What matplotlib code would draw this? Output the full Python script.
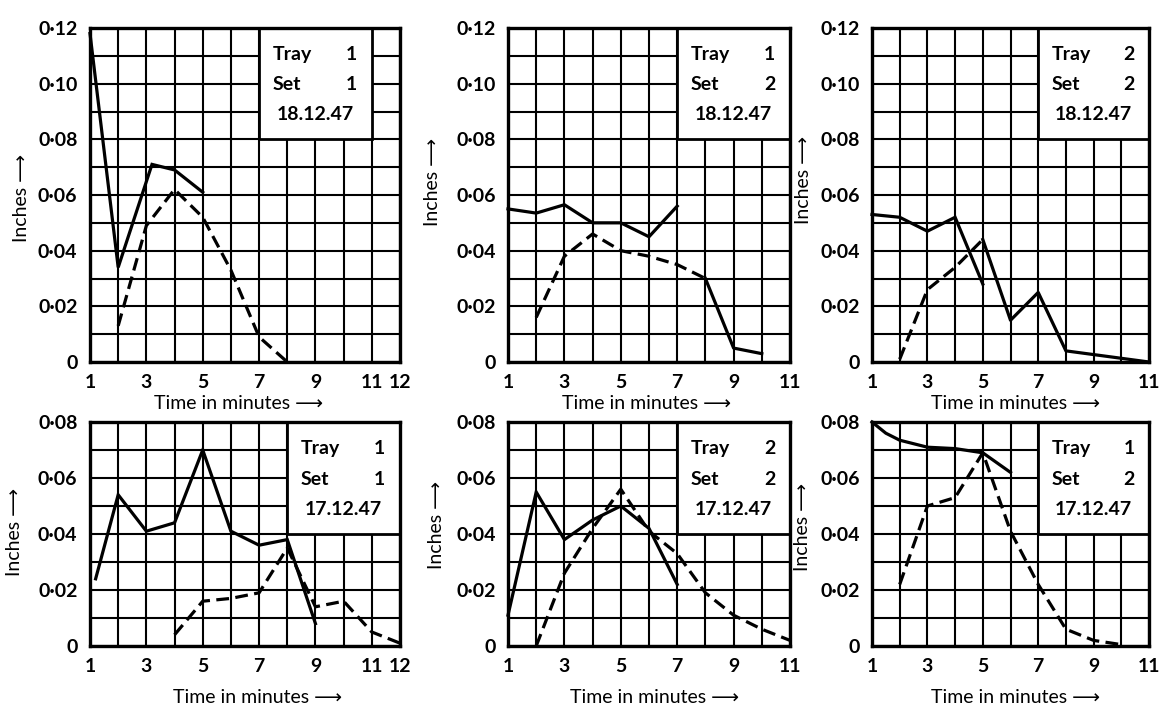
import matplotlib
matplotlib.use('Agg')
import matplotlib.pyplot as plt
from matplotlib.patches import Rectangle

plt.rcParams['font.family'] = ['Lato', 'DejaVu Sans']
plt.rcParams['font.weight'] = 'bold'

# ---- data (x = minutes, y = inches) ----
# Tray 1, Set 1, 18.12.47
a_solid_x = [1, 2, 3.2, 4, 5]
a_solid_y = [0.118, 0.034, 0.071, 0.069, 0.061]
a_dash_x = [2, 3, 4, 5, 6, 7, 8]
a_dash_y = [0.013, 0.049, 0.062, 0.052, 0.033, 0.009, 0.0]

# Tray 1, Set 2, 18.12.47
b_solid_x = [1, 2, 3, 4, 5, 6, 7]
b_solid_y = [0.055, 0.0535, 0.0565, 0.050, 0.050, 0.045, 0.056]
b_dash_x = [2, 3, 4, 5, 6, 7, 8, 9, 10]
b_dash_y = [0.016, 0.038, 0.046, 0.040, 0.038, 0.035, 0.030, 0.005, 0.003]

# Tray 2, Set 2, 18.12.47
c_solid_x = [1, 2, 3, 4, 5]
c_solid_y = [0.053, 0.052, 0.047, 0.052, 0.028]
c_dash_x = [2, 3, 4, 5, 6, 7, 8, 11]
c_dash_y = [0.001, 0.026, 0.034, 0.044, 0.015, 0.025, 0.004, 0.0]

# Tray 1, Set 1, 17.12.47
d_solid_x = [1.2, 2, 3, 4, 5, 6, 7, 8, 9]
d_solid_y = [0.024, 0.054, 0.041, 0.044, 0.070, 0.041, 0.036, 0.038, 0.008]
d_dash_x = [4, 5, 6, 7, 8, 9, 10, 11, 12]
d_dash_y = [0.004, 0.016, 0.017, 0.019, 0.035, 0.014, 0.016, 0.005, 0.001]

# Tray 2, Set 2, 17.12.47
e_solid_x = [1, 2, 3, 4, 5, 6, 7]
e_solid_y = [0.011, 0.055, 0.038, 0.045, 0.050, 0.042, 0.022]
e_dash_x = [2, 3, 4, 5, 6, 7, 8, 9, 10, 11]
e_dash_y = [0.0, 0.026, 0.042, 0.056, 0.041, 0.033, 0.019, 0.011, 0.006, 0.002]

# Tray 1, Set 2, 17.12.47
f_solid_x = [1, 1.5, 2, 3, 4, 5, 6]
f_solid_y = [0.080, 0.076, 0.0735, 0.071, 0.0705, 0.069, 0.062]
f_dash_x = [2, 3, 4, 5, 6, 7, 8, 9, 10]
f_dash_y = [0.022, 0.050, 0.053, 0.069, 0.041, 0.022, 0.006, 0.002, 0.0005]

trays = ['1', '1', '2', '1', '2', '1']
sets = ['1', '2', '2', '1', '2', '2']
dates = ['18.12.47', '18.12.47', '18.12.47', '17.12.47', '17.12.47', '17.12.47']

# ================== LAYOUT (pixels of the 1161x715 picture) ==================
W, H = 1161, 715
cols = [(90, 400), (508, 790), (872, 1149)]
rows = [(28, 362), (422, 646)]

panels = [
    dict(solid=(a_solid_x, a_solid_y), dash=(a_dash_x, a_dash_y), xmax=12, ymax=0.12, box_x=7, split=None),
    dict(solid=(b_solid_x, b_solid_y), dash=(b_dash_x, b_dash_y), xmax=11, ymax=0.12, box_x=7, split=6),
    dict(solid=(c_solid_x, c_solid_y), dash=(c_dash_x, c_dash_y), xmax=11, ymax=0.12, box_x=7, split=3),
    dict(solid=(d_solid_x, d_solid_y), dash=(d_dash_x, d_dash_y), xmax=12, ymax=0.08, box_x=8, split=None),
    dict(solid=(e_solid_x, e_solid_y), dash=(e_dash_x, e_dash_y), xmax=11, ymax=0.08, box_x=7, split=None),
    dict(solid=(f_solid_x, f_solid_y), dash=(f_dash_x, f_dash_y), xmax=11, ymax=0.08, box_x=7, split=None),
]

# posicao dos rotulos (coordenadas do eixo)
xlabel_pos = [(0.48, -0.10), (0.49, -0.10), (0.52, -0.10),
              (0.54, -0.19), (0.52, -0.19), (0.52, -0.19)]
ylabel_pos = [(-0.194, 0.49), (-0.238, 0.54), (-0.217, 0.545),
              (-0.216, 0.51), (-0.223, 0.54), (-0.22, 0.53)]

fig = plt.figure(figsize=(W / 100, H / 100), dpi=100)

for i, p in enumerate(panels):
    x0, x1 = cols[i % 3]
    y0, y1 = rows[i // 3]
    ax = fig.add_axes([x0 / W, 1 - y1 / H, (x1 - x0) / W, (y1 - y0) / H])

    xmax, ymax = p['xmax'], p['ymax']
    ax.set_xlim(1, xmax)
    ax.set_ylim(0, ymax)

    # grade: uma linha por minuto e por 0.01 pol.
    xt = list(range(1, xmax + 1))
    xl = [str(v) if (v % 2 == 1 or v == 12) else '' for v in xt]
    ax.set_xticks(xt)
    ax.set_xticklabels(xl, fontsize=14)
    n = int(round(ymax / 0.01))
    yt = [k * 0.01 for k in range(n + 1)]
    yl = []
    for k in range(n + 1):
        if k == 0:
            yl.append('0')
        elif k % 2 == 0:
            yl.append('0·%02d' % k)
        else:
            yl.append('')
    ax.set_yticks(yt)
    ax.set_yticklabels(yl, fontsize=14)
    ax.tick_params(length=0, pad=9)
    ax.set_axisbelow(True)
    ax.grid(True, color='black', linewidth=1.5)
    for s in ax.spines.values():
        s.set_linewidth(2.4)

    # caixa com a legenda
    bx, by, bw, bh = p['box_x'], ymax - 0.04, xmax - p['box_x'], 0.04
    if i == 0:
        bw = 11 - bx
    ax.add_patch(Rectangle((bx, by), bw, bh, facecolor='white', edgecolor='black',
                           linewidth=2.0, zorder=2))
    ax.text(bx + 0.12 * bw, by + 0.76 * bh, 'Tray', fontsize=14, ha='left', va='center', zorder=5)
    ax.text(bx + 0.82 * bw, by + 0.76 * bh, trays[i], fontsize=14, ha='center', va='center', zorder=5)
    ax.text(bx + 0.12 * bw, by + 0.49 * bh, 'Set', fontsize=14, ha='left', va='center', zorder=5)
    ax.text(bx + 0.82 * bw, by + 0.49 * bh, sets[i], fontsize=14, ha='center', va='center', zorder=5)
    ax.text(bx + 0.5 * bw, by + 0.22 * bh, dates[i], fontsize=14, ha='center', va='center', zorder=5)

    # curvas
    sx, sy = p['solid']
    ax.plot(sx, sy, color='black', linewidth=2.3, solid_joinstyle='miter', zorder=4, clip_on=False)
    dx, dy = p['dash']
    k = p['split']
    if k is None:
        ax.plot(dx, dy, color='black', linewidth=2.3, dashes=(4, 2), zorder=4)
    else:
        ax.plot(dx[:k + 1], dy[:k + 1], color='black', linewidth=2.3, dashes=(4, 2), zorder=4)
        ax.plot(dx[k:], dy[k:], color='black', linewidth=2.3, zorder=4)

    ax.set_xlabel('Time in minutes ⟶', fontsize=14)
    ax.xaxis.set_label_coords(*xlabel_pos[i])
    ax.set_ylabel('Inches ⟶', fontsize=14)
    ax.yaxis.set_label_coords(*ylabel_pos[i])

fig.savefig('out.png', dpi=100, facecolor='white')
